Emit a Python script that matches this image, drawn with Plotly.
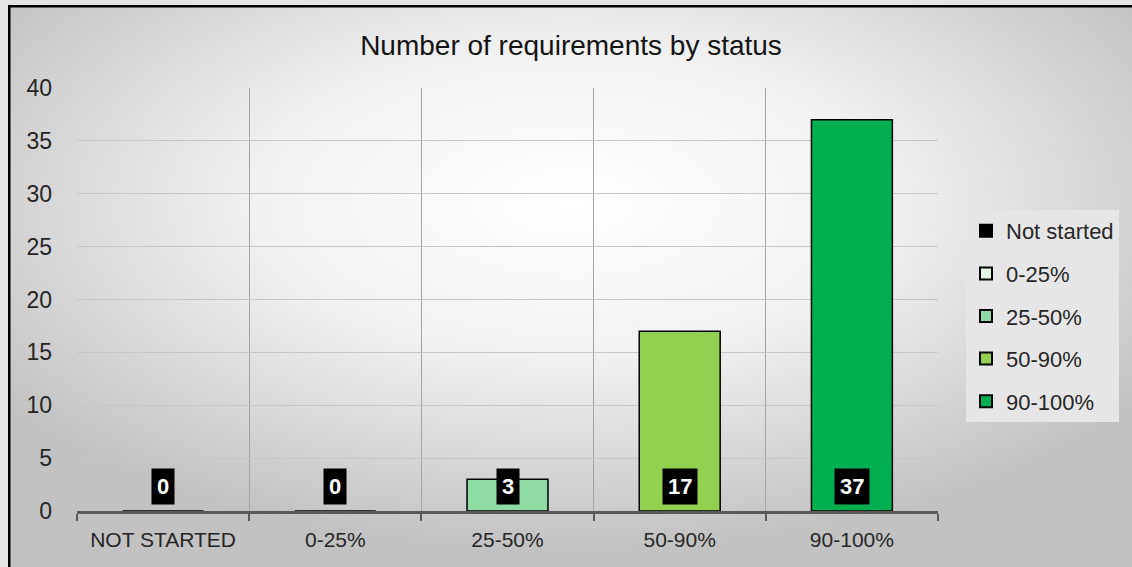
import base64
import plotly.graph_objects as go

categories = ["NOT STARTED", "0-25%", "25-50%", "50-90%", "90-100%"]
series_names = ["Not started", "0-25%", "25-50%", "50-90%", "90-100%"]
values = [0, 0, 3, 17, 37]
colors = ["#000000", "#e2f6e4", "#8fdba6", "#92d050", "#00b050"]
y_ticks = [0, 5, 10, 15, 20, 25, 30, 35, 40]

W, H = 1132, 567
L, R, T, B = 77, 194, 88, 56
pw, ph = W - L - R, H - T - B

svg = (
    "<svg xmlns='http://www.w3.org/2000/svg' width='1124' height='562' preserveAspectRatio='none'>"
    "<defs><radialGradient id='g' cx='50%' cy='35%' r='62%'>"
    "<stop offset='0' stop-color='#ffffff'/>"
    "<stop offset='0.45' stop-color='#f1f1f1'/>"
    "<stop offset='1' stop-color='#c2c2c2'/>"
    "</radialGradient></defs>"
    "<rect x='0' y='0' width='1124' height='562' fill='url(#g)'/>"
    "<line x1='0' y1='1' x2='1124' y2='1' stroke='black' stroke-width='3'/>"
    "<line x1='1' y1='0' x2='1' y2='562' stroke='black' stroke-width='3'/>"
    "</svg>"
)
src = "data:image/svg+xml;base64," + base64.b64encode(svg.encode()).decode()

fig = go.Figure()
for cat, name, v, c in zip(categories, series_names, values, colors):
    fig.add_trace(go.Bar(
        x=[cat], y=[v], name=name, legendgroup=name,
        marker=dict(color=c, line=dict(color="#000000", width=1.5)),
        width=0.47,
    ))

for cat, v in zip(categories, values):
    fig.add_annotation(
        x=cat, y=2.3, text="<b>%d</b>" % v, showarrow=False,
        font=dict(family="Liberation Sans, Arial", size=22, color="white"),
        bgcolor="black", borderpad=5,
    )

fig.update_layout(
    width=W, height=H,
    margin=dict(l=L, r=R, t=T, b=B, pad=0),
    paper_bgcolor="#e4e4e4",
    plot_bgcolor="rgba(0,0,0,0)",
    barmode="overlay",
    title=dict(
        text="Number of requirements by status",
        x=(571) / W, xanchor="center",
        y=1 - 45 / H, yanchor="middle",
        font=dict(family="Liberation Sans, Arial", size=28, color="#141414"),
    ),
    images=[dict(
        source=src, xref="paper", yref="paper",
        x=(8 - L) / pw, y=1 + (T - 5) / ph,
        sizex=(W - 8) / pw, sizey=(H - 5) / ph,
        xanchor="left", yanchor="top",
        sizing="stretch", layer="below",
    )],
    legend=dict(
        x=(966 - L) / pw, xanchor="left",
        y=(H - B - 210) / ph, yanchor="top",
        bgcolor="#e6e6e6",
        font=dict(family="Liberation Sans, Arial", size=22, color="#262626"),
        tracegroupgap=11,
        itemsizing="constant",
    ),
    showlegend=True,
    xaxis=dict(
        type="category",
        categoryorder="array", categoryarray=categories,
        tickson="boundaries",
        showgrid=True, gridcolor="#a4a4a4", gridwidth=1,
        showline=True, linecolor="#595959", linewidth=3,
        ticks="outside", ticklen=7, tickwidth=2, tickcolor="#595959",
        ticklabelstandoff=8,
        tickfont=dict(family="Liberation Sans, Arial", size=21, color="#262626"),
        range=[-0.5, 4.5],
    ),
    yaxis=dict(
        range=[0, 40],
        tickvals=y_ticks,
        showgrid=True, gridcolor="#c6c6c6", gridwidth=1,
        zeroline=False, showline=False,
        ticks="", ticklabelstandoff=24,
        tickfont=dict(family="Liberation Sans, Arial", size=23, color="#262626"),
    ),
)

fig.write_html("out.html")
